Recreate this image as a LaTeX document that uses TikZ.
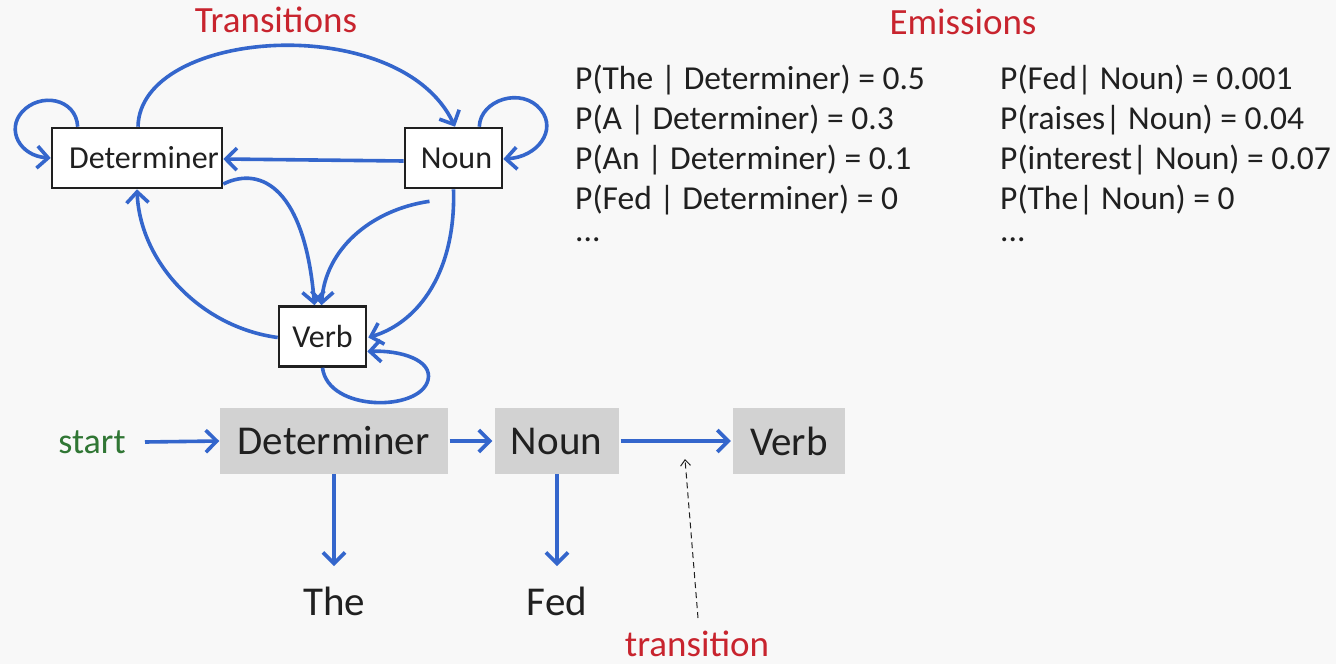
\documentclass[tikz,border=0pt]{standalone}
\usepackage{fontspec}
\setmainfont{Carlito}
\usetikzlibrary{arrows.meta}

\definecolor{bgcol}{RGB}{248,248,248}
\definecolor{arrowblue}{RGB}{52,102,204}
\definecolor{titlered}{RGB}{200,36,46}
\definecolor{startgreen}{RGB}{48,118,52}
\definecolor{cellgray}{RGB}{210,210,210}
\definecolor{inkgray}{RGB}{32,32,32}

\tikzset{
  statebox/.style={draw=inkgray, line width=2.6pt, fill=white, inner sep=0pt,
    text=inkgray, font=\fontsize{32}{32}\selectfont},
  cell/.style={fill=cellgray, inner sep=0pt, minimum height=66pt,
    text=inkgray, font=\fontsize{41}{41}\selectfont},
  word/.style={text=inkgray, font=\fontsize{41}{41}\selectfont, inner sep=0pt},
  title/.style={text=titlered, font=\fontsize{37}{37}\selectfont, inner sep=0pt},
  prob/.style={text=inkgray, font=\fontsize{33.5}{33.5}\selectfont, inner sep=0pt, anchor=west},
  flow/.style={draw=arrowblue, line width=3.6pt,
    -{Straight Barb[length=11pt,width=22pt,line width=3.6pt]}},
  hint/.style={draw=inkgray, line width=1pt, dashed, dash pattern=on 6pt off 4pt,
    -{Straight Barb[length=6pt,width=10pt,line width=1pt]}}
}

\begin{document}
\begin{tikzpicture}[x=1pt,y=-1pt]
  \fill[bgcol] (0,0) rectangle (1336,664);
  \useasboundingbox (0,0) rectangle (1336,664);

  % titles
  \node[title] (ttrans) at (276,20) {Transitions};
  \node[title] (temit)  at (963,22) {Emissions};

  % state graph
  \node[statebox, minimum width=170pt, minimum height=60pt] (det)  at (137,158) {\hspace*{14pt}Determiner};
  \node[statebox, minimum width=97pt,  minimum height=60pt] (noun) at (453.5,158) {\hspace*{6pt}Noun};
  \node[statebox, minimum width=87pt,  minimum height=60pt] (verb) at (322.5,336.5) {Verb};

  % self loops
  \draw[flow] ([xshift=27pt]det.north west)
      .. controls (76,98) and (40,92) .. (22,112)
      .. controls (6,130) and (20,156) .. (det.west);
  \draw[flow] ([xshift=-24pt]noun.north east)
      .. controls (480,100) and (522,86) .. (541,110)
      .. controls (557,130) and (538,157) .. ([yshift=-1pt]noun.east);
  \draw[flow] (verb.south)
      .. controls (328,412) and (420,412) .. (428,380)
      .. controls (433,360) and (400,350) .. ([yshift=-15pt]verb.east);

  % transitions between states
  \draw[flow] ([xshift=1pt]det.north)
      .. controls (140,28) and (400,10) .. ([xshift=1.5pt]noun.north);
  \draw[flow] ([yshift=-3pt]noun.west) -- ([yshift=-1pt]det.east);
  \draw[flow] ([yshift=-26pt]det.east)
      .. controls (262,165) and (305,190) .. ([xshift=-8pt]verb.north);
  \draw[flow] ([xshift=-24pt,yshift=-12pt]noun.south)
      .. controls (370,210) and (325,250) .. ([xshift=-1pt]verb.north);
  \draw[flow] (noun.south)
      .. controls (456,270) and (420,322) .. ([xshift=1pt,yshift=-1pt]verb.east);
  \draw[flow] ([yshift=-1pt]verb.west)
      .. controls (200,327) and (140,262) .. (det.south);

  % emission probabilities
  \node[prob] (e1) at (575,80)  {P(The | Determiner) = 0.5};
  \node[prob] (e2) at (575,120) {P(A | Determiner) = 0.3};
  \node[prob] (e3) at (575,160) {P(An | Determiner) = 0.1};
  \node[prob] (e4) at (575,200) {P(Fed | Determiner) = 0};
  \node[prob] (e5) at (575,240) {...};
  \node[prob] (f1) at (1000,80)  {P(Fed| Noun) = 0.001};
  \node[prob] (f2) at (1000,120) {P(raises| Noun) = 0.04};
  \node[prob] (f3) at (1000,160) {P(interest| Noun) = 0.07};
  \node[prob] (f4) at (1000,200) {P(The| Noun) = 0};
  \node[prob] (f5) at (1000,240) {...};

  % tagged sequence
  \node[text=startgreen, font=\fontsize{36}{36}\selectfont, inner sep=0pt] (start) at (92,442) {start};
  \node[cell, minimum width=228pt] (cdet)  at (333.5,441) {Determiner};
  \node[cell, minimum width=124pt] (cnoun) at (556.5,441) {Noun};
  \node[cell, minimum width=112pt] (cverb) at (789,441) {Verb};

  \node[word] (wthe) at (334,601) {The};
  \node[word] (wfed) at (557,601) {Fed};
  \node[title] (ttr) at (697,644) {transition};

  \coordinate (startend) at (145,442);
  \coordinate (theTop) at (334,566);
  \coordinate (fedTop) at (557,566);
  \coordinate (hintfoot) at (698,618);
  \coordinate (hinthead) at (685,459);

  \draw[flow] (startend) -- (cdet.west);
  \draw[flow] ([xshift=2pt]cdet.east) -- ([xshift=-2pt]cnoun.west);
  \draw[flow] ([xshift=2pt]cnoun.east) -- ([xshift=-2pt]cverb.west);
  \draw[flow] ([xshift=0.5pt]cdet.south) -- (theTop);
  \draw[flow] ([xshift=0.5pt]cnoun.south) -- (fedTop);
  \draw[hint] (hintfoot) -- (hinthead);
\end{tikzpicture}
\end{document}
